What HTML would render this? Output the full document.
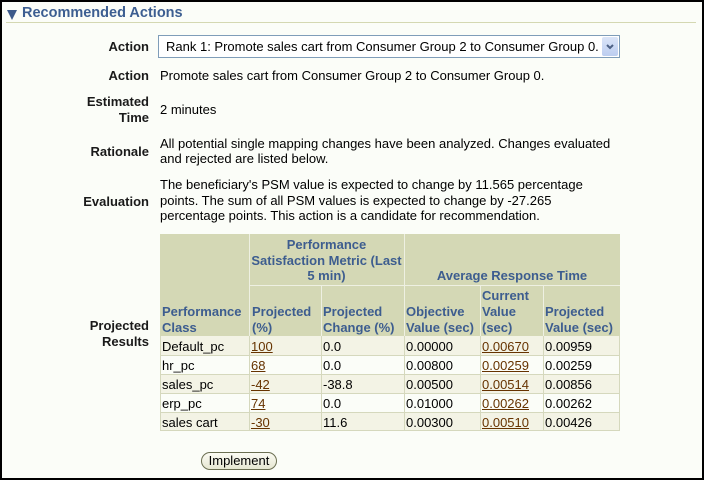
<!DOCTYPE html>
<html><head><meta charset="utf-8">
<style>
html,body{margin:0;padding:0;width:704px;height:480px;overflow:hidden;}
#w{position:relative;width:704px;height:480px;background:#fbfdf8;font-family:"Liberation Sans",Arial,sans-serif;}
.t{position:absolute;white-space:nowrap;font-size:13px;line-height:16px;color:#000;}
.lb{position:absolute;white-space:nowrap;font-size:13px;line-height:16px;color:#1a1a1a;font-weight:bold;text-align:right;right:555px;}
.h{position:absolute;white-space:nowrap;font-size:13px;line-height:16px;color:#3d5d8f;font-weight:bold;}
.r{position:absolute;}
a{color:#663300;text-decoration:underline;}
</style></head><body>
<div id="w">
<!-- title -->
<svg class="r" style="left:0;top:0" width="30" height="30"><polygon points="7,10 17,10 12,20" fill="#3c5a8a"/></svg>
<div class="t" style="left:22px;top:4px;font-size:14.5px;line-height:18px;font-weight:bold;color:#3c5e91;">Recommended Actions</div>
<div class="r" style="left:6px;top:22px;width:690px;height:1px;background:#d4d8b2;"></div>

<!-- Action select -->
<div class="lb" style="top:38.5px;">Action</div>
<div class="r" style="left:158px;top:35px;width:460px;height:21px;border:1px solid #7f9db9;background:#fff;"></div>
<div class="t" style="left:166px;top:38.5px;">Rank 1: Promote sales cart from Consumer Group 2 to Consumer Group 0.</div>
<div class="r" style="left:602px;top:37px;width:16px;height:19px;border-radius:2px;background:linear-gradient(#dbe5f8,#bccdf0);"></div>
<svg class="r" style="left:602px;top:37px" width="16" height="19"><polyline points="5,8 8,11 11,8" fill="none" stroke="#4d6185" stroke-width="2"/></svg>

<div class="lb" style="top:67.5px;">Action</div>
<div class="t" style="left:160px;top:67.5px;">Promote sales cart from Consumer Group 2 to Consumer Group 0.</div>

<div class="lb" style="top:93.5px;">Estimated<br>Time</div>
<div class="t" style="left:160px;top:101.5px;">2 minutes</div>

<div class="lb" style="top:143.5px;">Rationale</div>
<div class="t" style="left:160px;top:136px;line-height:15px;">All potential single mapping changes have been analyzed. Changes evaluated<br>and rejected are listed below.</div>

<div class="lb" style="top:193.5px;">Evaluation</div>
<div class="t" style="left:160px;top:177px;line-height:15.7px;">The beneficiary's PSM value is expected to change by 11.565 percentage<br>points. The sum of all PSM values is expected to change by -27.265<br>percentage points. This action is a candidate for recommendation.</div>

<div class="lb" style="top:317.5px;">Projected<br>Results</div>

<!-- table header -->
<div class="r" style="left:160px;top:234px;width:460px;height:102px;background:#d4d8b5;"></div>
<div class="r" style="left:249px;top:234px;width:1px;height:102px;background:#eef0e2;"></div>
<div class="r" style="left:404px;top:234px;width:1px;height:102px;background:#eef0e2;"></div>
<div class="r" style="left:249px;top:285px;width:371px;height:1px;background:#eef0e2;"></div>
<div class="r" style="left:321px;top:285px;width:1px;height:51px;background:#eef0e2;"></div>
<div class="r" style="left:480px;top:285px;width:1px;height:51px;background:#eef0e2;"></div>
<div class="r" style="left:543px;top:285px;width:1px;height:51px;background:#eef0e2;"></div>

<div class="h" style="left:249px;width:155px;top:237px;line-height:15.7px;text-align:center;">Performance<br>Satisfaction Metric (Last<br>5 min)</div>
<div class="h" style="left:404px;width:216px;top:267.6px;text-align:center;">Average Response Time</div>
<div class="h" style="left:162px;top:303.5px;">Performance<br>Class</div>
<div class="h" style="left:252px;top:303.5px;">Projected<br>(%)</div>
<div class="h" style="left:323px;top:303.5px;">Projected<br>Change (%)</div>
<div class="h" style="left:406px;top:303.5px;">Objective<br>Value (sec)</div>
<div class="h" style="left:482px;top:287.5px;">Current<br>Value<br>(sec)</div>
<div class="h" style="left:545px;top:303.5px;">Projected<br>Value (sec)</div>

<!-- data rows -->
<div class="r" style="left:160px;top:336px;width:460px;height:19px;background:#f3f3e5;"></div>
<div class="r" style="left:160px;top:355px;width:460px;height:19px;background:#fbfdf8;"></div>
<div class="r" style="left:160px;top:374px;width:460px;height:19px;background:#f3f3e5;"></div>
<div class="r" style="left:160px;top:393px;width:460px;height:19px;background:#fbfdf8;"></div>
<div class="r" style="left:160px;top:412px;width:460px;height:19px;background:#f3f3e5;"></div>
<!-- grid lines -->
<div class="r" style="left:160px;top:355px;width:460px;height:1px;background:#d5d8bd;"></div>
<div class="r" style="left:160px;top:374px;width:460px;height:1px;background:#d5d8bd;"></div>
<div class="r" style="left:160px;top:393px;width:460px;height:1px;background:#d5d8bd;"></div>
<div class="r" style="left:160px;top:412px;width:460px;height:1px;background:#d5d8bd;"></div>
<div class="r" style="left:160px;top:430px;width:460px;height:1px;background:#d5d8bd;"></div>
<div class="r" style="left:160px;top:336px;width:1px;height:95px;background:#d5d8bd;"></div>
<div class="r" style="left:249px;top:336px;width:1px;height:95px;background:#d5d8bd;"></div>
<div class="r" style="left:321px;top:336px;width:1px;height:95px;background:#d5d8bd;"></div>
<div class="r" style="left:404px;top:336px;width:1px;height:95px;background:#d5d8bd;"></div>
<div class="r" style="left:480px;top:336px;width:1px;height:95px;background:#d5d8bd;"></div>
<div class="r" style="left:543px;top:336px;width:1px;height:95px;background:#d5d8bd;"></div>
<div class="r" style="left:619px;top:336px;width:1px;height:95px;background:#d5d8bd;"></div>

<div class="t" style="left:162px;top:338.5px;">Default_pc</div>
<div class="t" style="left:251px;top:338.5px;"><a>100</a></div>
<div class="t" style="left:323px;top:338.5px;">0.0</div>
<div class="t" style="left:406px;top:338.5px;">0.00000</div>
<div class="t" style="left:482px;top:338.5px;"><a>0.00670</a></div>
<div class="t" style="left:545px;top:338.5px;">0.00959</div>

<div class="t" style="left:162px;top:357.5px;">hr_pc</div>
<div class="t" style="left:251px;top:357.5px;"><a>68</a></div>
<div class="t" style="left:323px;top:357.5px;">0.0</div>
<div class="t" style="left:406px;top:357.5px;">0.00800</div>
<div class="t" style="left:482px;top:357.5px;"><a>0.00259</a></div>
<div class="t" style="left:545px;top:357.5px;">0.00259</div>

<div class="t" style="left:162px;top:376.5px;">sales_pc</div>
<div class="t" style="left:251px;top:376.5px;"><a>-42</a></div>
<div class="t" style="left:323px;top:376.5px;">-38.8</div>
<div class="t" style="left:406px;top:376.5px;">0.00500</div>
<div class="t" style="left:482px;top:376.5px;"><a>0.00514</a></div>
<div class="t" style="left:545px;top:376.5px;">0.00856</div>

<div class="t" style="left:162px;top:395.5px;">erp_pc</div>
<div class="t" style="left:251px;top:395.5px;"><a>74</a></div>
<div class="t" style="left:323px;top:395.5px;">0.0</div>
<div class="t" style="left:406px;top:395.5px;">0.01000</div>
<div class="t" style="left:482px;top:395.5px;"><a>0.00262</a></div>
<div class="t" style="left:545px;top:395.5px;">0.00262</div>

<div class="t" style="left:162px;top:414.5px;">sales cart</div>
<div class="t" style="left:251px;top:414.5px;"><a>-30</a></div>
<div class="t" style="left:323px;top:414.5px;">11.6</div>
<div class="t" style="left:406px;top:414.5px;">0.00300</div>
<div class="t" style="left:482px;top:414.5px;"><a>0.00510</a></div>
<div class="t" style="left:545px;top:414.5px;">0.00426</div>

<!-- button -->
<div class="r" style="left:201px;top:452px;width:74px;height:16px;border:1px solid #6b6f52;border-radius:9px;background:linear-gradient(#fbfbf3,#e6e7d2);"></div>
<div class="t" style="left:201px;width:76px;text-align:center;top:453px;">Implement</div>

<!-- frame -->
<div class="r" style="left:0;top:0;width:704px;height:480px;box-sizing:border-box;border:2px solid #000;"></div>
</div>
</body></html>
